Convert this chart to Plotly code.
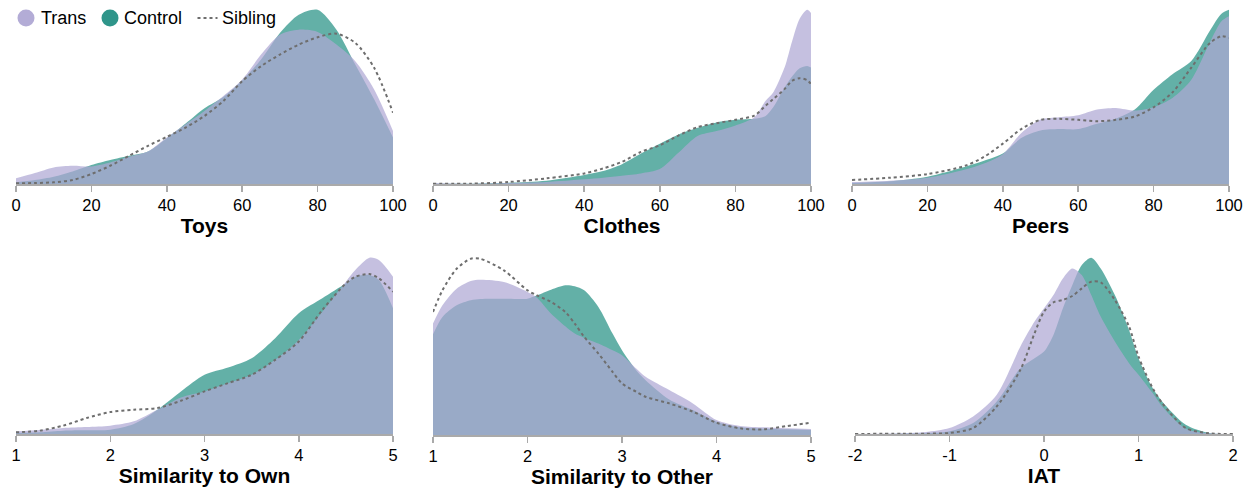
import plotly.graph_objects as go

# ---------------- data (relative density heights) ----------------
toys_x = [0, 5, 10, 15, 20, 25, 30, 35, 40, 45, 50, 55, 60, 65, 70, 75, 80, 85, 90, 95, 100]
toys_trans = [17, 33, 50, 55, 53, 65, 82, 98, 140, 180, 220, 265, 315, 390, 450, 465, 458, 420, 370, 285, 160]
toys_control = [5, 12, 22, 38, 57, 72, 85, 98, 138, 182, 228, 262, 312, 375, 455, 510, 525, 465, 360, 255, 140]
toys_sibling = [2, 3, 5, 12, 30, 55, 85, 115, 142, 170, 205, 250, 310, 355, 390, 420, 442, 453, 425, 350, 215]

clothes_x = [0, 10, 20, 30, 40, 45, 50, 55, 60, 65, 70, 75, 80, 85, 88, 90, 93, 95, 97, 99, 100]
clothes_trans = [3, 1, 3, 6, 14, 19, 25, 32, 45, 95, 145, 160, 177, 202, 252, 277, 352, 432, 500, 527, 517]
clothes_control = [1, 1, 4, 10, 27, 39, 60, 92, 122, 150, 170, 186, 194, 197, 206, 232, 292, 325, 350, 357, 352]
clothes_sibling = [1, 1, 6, 17, 32, 47, 67, 97, 117, 147, 172, 184, 194, 207, 237, 257, 287, 312, 320, 314, 302]

peers_x = [0, 10, 20, 30, 35, 40, 45, 50, 55, 60, 65, 70, 75, 80, 85, 90, 95, 98, 100]
peers_trans = [6, 10, 19, 44, 62, 90, 155, 195, 202, 208, 225, 230, 222, 232, 260, 315, 430, 492, 507]
peers_control = [3, 8, 22, 52, 70, 92, 140, 162, 166, 166, 182, 198, 225, 285, 332, 372, 465, 515, 527]
peers_sibling = [12, 19, 30, 55, 82, 122, 167, 194, 197, 194, 190, 194, 204, 232, 277, 352, 427, 447, 442]

own_x = [1, 1.25, 1.5, 1.75, 2, 2.25, 2.5, 2.75, 3, 3.25, 3.5, 3.75, 4, 4.25, 4.5, 4.6, 4.75, 4.85, 5]
own_trans = [8, 12, 18, 21, 25, 38, 73, 110, 128, 153, 178, 223, 283, 368, 458, 493, 530, 523, 473]
own_control = [3, 5, 10, 11, 13, 30, 73, 128, 178, 200, 228, 288, 363, 408, 453, 473, 478, 463, 378]
own_sibling = [5, 10, 25, 48, 66, 73, 78, 100, 128, 153, 178, 223, 278, 373, 453, 473, 481, 468, 428]

other_x = [1, 1.1, 1.25, 1.4, 1.5, 1.75, 2, 2.1, 2.25, 2.4, 2.5, 2.6, 2.75, 2.9, 3, 3.15,
           3.25, 3.5, 3.75, 4, 4.25, 4.5, 4.75, 5]
other_trans = [335, 390, 440, 463, 467, 460, 430, 413, 365, 327, 305, 292, 275, 255, 240, 200,
               175, 135, 95, 45, 27, 23, 20, 18]
other_control = [303, 355, 390, 405, 409, 410, 410, 420, 437, 450, 447, 435, 385, 305, 255, 195,
                 165, 107, 75, 40, 23, 19, 17, 15]
other_sibling = [370, 435, 500, 530, 530, 495, 435, 420, 400, 370, 335, 295, 245, 190, 155, 130,
                 115, 95, 70, 37, 20, 17, 27, 37]

iat_x = [-2, -1.5, -1.25, -1, -0.75, -0.5, -0.25, -0.1, 0, 0.1, 0.2, 0.3, 0.4, 0.5, 0.6, 0.75,
         0.9, 1, 1.15, 1.25, 1.5, 1.75, 2]
iat_trans = [0, 2, 6, 18, 53, 118, 263, 338, 378, 418, 468, 498, 478, 418, 353, 278,
             213, 178, 123, 83, 16, 2, 0]
iat_control = [0, 1, 2, 8, 33, 98, 198, 228, 248, 298, 378, 448, 508, 530, 498, 418,
               313, 228, 138, 98, 28, 3, 0]
iat_sibling = [0, 1, 1, 3, 18, 83, 193, 303, 368, 396, 403, 415, 438, 458, 456, 403,
               323, 233, 138, 93, 18, 2, 0]

panel_titles = ["Toys", "Clothes", "Peers", "Similarity to Own", "Similarity to Other", "IAT"]
x_ranges = [[0, 100], [0, 100], [0, 100], [1, 5], [1, 5], [-2, 2]]
pct_ticks = [0, 20, 40, 60, 80, 100]
likert_ticks = [1, 2, 3, 4, 5]
iat_ticks = [-2, -1, 0, 1, 2]
iat_ticktext = ["-2", "-1", "0", "1", "2"]
x_ticks = [pct_ticks] * 3 + [likert_ticks] * 2 + [iat_ticks]
x_ticktext = [[str(v) for v in pct_ticks]] * 3 + [[str(v) for v in likert_ticks]] * 2 + [iat_ticktext]

legend_labels = ["Trans", "Control", "Sibling"]

panels = [
    (toys_x, toys_trans, toys_control, toys_sibling),
    (clothes_x, clothes_trans, clothes_control, clothes_sibling),
    (peers_x, peers_trans, peers_control, peers_sibling),
    (own_x, own_trans, own_control, own_sibling),
    (other_x, other_trans, other_control, other_sibling),
    (iat_x, iat_trans, iat_control, iat_sibling),
]

# ---------------- styling ----------------
W, H = 1256, 489
TRANS_FILL = "rgba(175,168,212,0.72)"
CONTROL_FILL = "rgba(47,149,138,0.75)"
TRANS_LEG = "#b3acd6"
CONTROL_LEG = "#2f958a"
SIB_COLOR = "#6e6e6e"
FONT = "Liberation Sans, Arial, Helvetica, sans-serif"

# pixel layout of each panel: (left, right, baseline, top)
px_boxes = [
    (16, 393, 184, 8), (433, 811, 184, 8), (852, 1229, 184, 8),
    (16, 393, 434, 256), (433, 811, 435, 257), (855, 1233, 434, 256),
]

fig = go.Figure()
layout = {}
for i, ((xs, tr, ct, sb), box) in enumerate(zip(panels, px_boxes)):
    n = "" if i == 0 else str(i + 1)
    xa, ya = "x" + n, "y" + n
    fig.add_trace(go.Scatter(x=xs, y=ct, mode="lines", fill="tozeroy", fillcolor=CONTROL_FILL,
                             line=dict(width=0, shape="spline", smoothing=0.8), xaxis=xa, yaxis=ya,
                             showlegend=False, hoverinfo="skip"))
    fig.add_trace(go.Scatter(x=xs, y=tr, mode="lines", fill="tozeroy", fillcolor=TRANS_FILL,
                             line=dict(width=0, shape="spline", smoothing=0.8), xaxis=xa, yaxis=ya,
                             showlegend=False, hoverinfo="skip"))
    fig.add_trace(go.Scatter(x=xs, y=sb, mode="lines",
                             line=dict(width=2, color=SIB_COLOR, dash="3px,3px", shape="spline", smoothing=0.8),
                             xaxis=xa, yaxis=ya, showlegend=False, hoverinfo="skip"))
    left, right, base, top = box
    ymax = max(max(tr), max(ct), max(sb)) * 1.01
    layout["xaxis" + n] = dict(
        domain=[left / W, right / W], range=x_ranges[i], anchor=ya,
        tickmode="array", tickvals=x_ticks[i], ticktext=x_ticktext[i],
        ticks="outside", ticklen=6, tickwidth=1.5, tickcolor="#aaaaaa",
        showline=True, linecolor="#aaaaaa", linewidth=1.5, showgrid=False, zeroline=False,
        automargin=False, fixedrange=True,
        tickfont=dict(size=16.5, color="#000", family=FONT),
        title=dict(text=panel_titles[i], standoff=5,
                   font=dict(size=21, color="#000", family=FONT, weight="bold")),
    )
    layout["yaxis" + n] = dict(
        domain=[1 - base / H, 1 - top / H], range=[0, ymax], anchor=xa, visible=False,
        showgrid=False, zeroline=False, fixedrange=True, automargin=False,
    )

# ---------------- legend (drawn as shapes + text) ----------------
leg_y = 1 - 18 / H
shapes = [
    dict(type="circle", xref="paper", yref="paper", xsizemode="pixel", ysizemode="pixel",
         xanchor=26 / W, yanchor=leg_y, x0=-8.5, x1=8.5, y0=-8.5, y1=8.5,
         fillcolor=TRANS_LEG, line=dict(width=0)),
    dict(type="circle", xref="paper", yref="paper", xsizemode="pixel", ysizemode="pixel",
         xanchor=110 / W, yanchor=leg_y, x0=-8.5, x1=8.5, y0=-8.5, y1=8.5,
         fillcolor=CONTROL_LEG, line=dict(width=0)),
    dict(type="line", xref="paper", yref="paper", xsizemode="pixel", ysizemode="pixel",
         xanchor=207.5 / W, yanchor=leg_y, x0=-10, x1=10, y0=0, y1=0,
         line=dict(color=SIB_COLOR, width=2, dash="3px,3px")),
]
annotations = [
    dict(text=lab, x=xp / W, y=leg_y, xref="paper", yref="paper", xanchor="left", yanchor="middle",
         showarrow=False, font=dict(size=18, family=FONT, color="#000"))
    for lab, xp in zip(legend_labels, [39, 122, 220])
]

fig.update_layout(
    width=W, height=H, margin=dict(l=0, r=0, t=0, b=0, pad=0, autoexpand=False),
    autosize=False,
    paper_bgcolor="white", plot_bgcolor="rgba(0,0,0,0)",
    font=dict(family=FONT, size=16, color="#000"),
    showlegend=False,
    shapes=shapes, annotations=annotations,
    **layout,
)

fig.write_html("out.html", config={"displayModeBar": False, "staticPlot": True},
               post_script="document.body.style.margin='0';document.body.style.overflow='hidden';")
